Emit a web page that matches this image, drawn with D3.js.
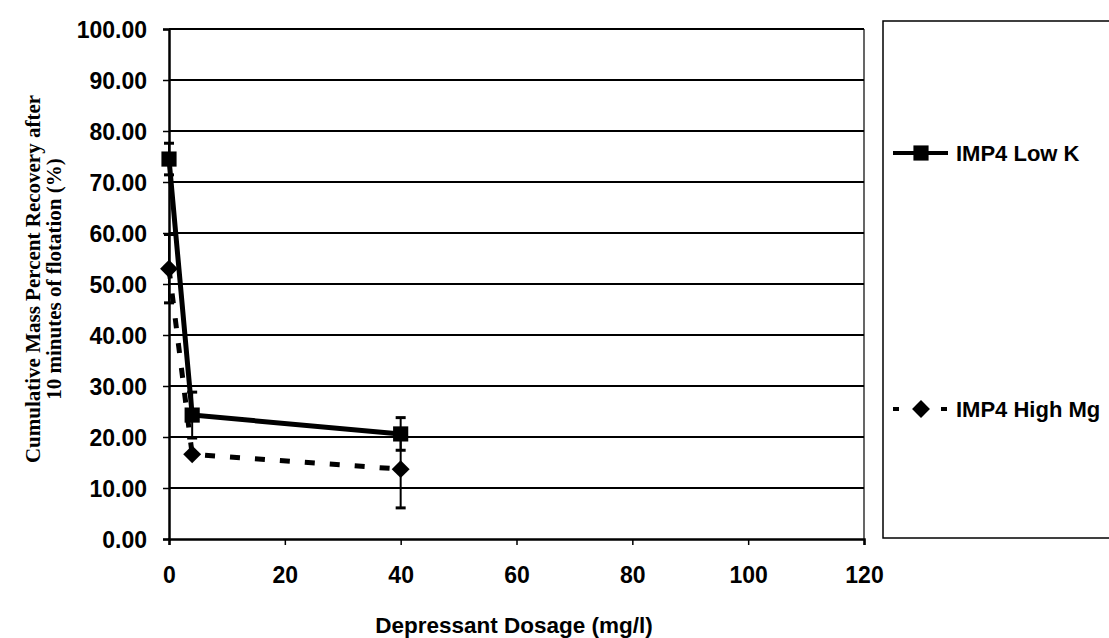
<!DOCTYPE html>
<html><head><meta charset="utf-8">
<script src="https://cdn.jsdelivr.net/npm/d3@7"></script>
<style>body{margin:0;background:#fff}svg{display:block}</style>
</head><body>
<script>
const dosage = [0, 4, 40];
const lowK = [74.5, 24.3, 20.6];
const lowKErr = [3.1, 4.5, 3.2];
const highMg = [53.0, 16.6, 13.7];
const highMgErr = [6.7, 0, 7.6];
const seriesNames = ["IMP4 Low K", "IMP4 High Mg"];
const xTicks = [0, 20, 40, 60, 80, 100, 120];
const yTicks = [0, 10, 20, 30, 40, 50, 60, 70, 80, 90, 100];

const W = 1109, H = 638;
const svg = d3.select("body").append("svg").attr("width", W).attr("height", H);
const x = d3.scaleLinear().domain([0, 120]).range([169, 864]);
const y = d3.scaleLinear().domain([0, 100]).range([539, 29]);
const sans = "'Liberation Sans', Arial, sans-serif";

// gridlines
svg.append("g").selectAll("line").data(yTicks.filter(d => d > 0)).join("line")
  .attr("x1", x(0)).attr("x2", x(120)).attr("y1", d => y(d)).attr("y2", d => y(d))
  .attr("stroke", "#000").attr("stroke-width", 2);
// right border
svg.append("line").attr("x1", x(120)).attr("x2", x(120)).attr("y1", y(100)).attr("y2", y(0))
  .attr("stroke", "#000").attr("stroke-width", 1.2);

// axes
const yAxis = svg.append("g").attr("transform", `translate(${x(0)},0)`)
  .call(d3.axisLeft(y).tickValues(yTicks).tickFormat(d3.format(".2f")).tickSize(6).tickPadding(16));
const xAxis = svg.append("g").attr("transform", `translate(0,${y(0)})`)
  .call(d3.axisBottom(x).tickValues(xTicks).tickSize(6).tickPadding(22));
[yAxis, xAxis].forEach(a => {
  a.select(".domain").attr("stroke", "#000").attr("stroke-width", 2.5);
  a.selectAll(".tick line").attr("stroke", "#000").attr("stroke-width", 1.5);
  a.selectAll("text").attr("font-family", sans).attr("font-size", 23).attr("font-weight", "bold").attr("fill", "#000");
});
yAxis.selectAll("text").attr("dy", "0.36em");

// axis titles
svg.append("text").attr("x", 514).attr("y", 633).attr("text-anchor", "middle")
  .attr("font-family", sans).attr("font-size", 22.5).attr("font-weight", "bold").text("Depressant Dosage (mg/l)");
const yt = svg.append("text").attr("transform", "translate(33,279) rotate(-90)").attr("text-anchor", "middle")
  .attr("font-family", "'Liberation Serif', 'Times New Roman', serif").attr("font-size", 21).attr("font-weight", "bold");
yt.append("tspan").attr("x", 0).attr("dy", "0.35em").text("Cumulative Mass Percent Recovery after");
yt.append("tspan").attr("x", 0).attr("dy", "0.98em").text("10 minutes of flotation (%)");

const pts = (vals, errs) => dosage.map((d, i) => ({x: d, y: vals[i], e: errs[i]}));
const sK = pts(lowK, lowKErr), sM = pts(highMg, highMgErr);

// error bars
function errBars(data) {
  const g = svg.append("g").attr("stroke", "#000").attr("stroke-width", 2);
  data.filter(d => d.e > 0).forEach(d => {
    g.append("line").attr("x1", x(d.x)).attr("x2", x(d.x)).attr("y1", y(d.y - d.e)).attr("y2", y(d.y + d.e));
    [d.y - d.e, d.y + d.e].forEach(v => g.append("line").attr("x1", x(d.x) - 5).attr("x2", x(d.x) + 5)
      .attr("y1", y(v)).attr("y2", y(v)).attr("stroke-width", 3));
  });
}
errBars(sM); errBars(sK);

const line = d3.line().x(d => x(d.x)).y(d => y(d.y));
svg.append("path").datum(sM).attr("d", line).attr("fill", "none").attr("stroke", "#000")
  .attr("stroke-width", 5).attr("stroke-dasharray", "10,15");
svg.append("path").datum(sK).attr("d", line).attr("fill", "none").attr("stroke", "#000").attr("stroke-width", 5);

const sq = d3.symbol().type(d3.symbolSquare).size(230);
const dia = d3.symbol().type(d3.symbolSquare).size(160);
svg.append("g").selectAll("path").data(sM).join("path").attr("d", dia)
  .attr("transform", d => `translate(${x(d.x)},${y(d.y)}) rotate(45)`).attr("fill", "#000");
svg.append("g").selectAll("path").data(sK).join("path").attr("d", sq)
  .attr("transform", d => `translate(${x(d.x)},${y(d.y)})`).attr("fill", "#000");

// legend
svg.append("rect").attr("x", 883).attr("y", 21).attr("width", 240).attr("height", 517)
  .attr("fill", "none").attr("stroke", "#000").attr("stroke-width", 1.5);
const leg = [{name: seriesNames[0], y: 153, dash: null, sym: sq, r: 0},
             {name: seriesNames[1], y: 409, dash: "6,18", sym: dia, r: 45}];
leg.forEach(l => {
  svg.append("line").attr("x1", 893).attr("x2", 948).attr("y1", l.y).attr("y2", l.y)
    .attr("stroke", "#000").attr("stroke-width", 4).attr("stroke-dasharray", l.dash);
  svg.append("path").attr("d", l.sym).attr("transform", `translate(921,${l.y}) rotate(${l.r})`).attr("fill", "#000");
  svg.append("text").attr("x", 956).attr("y", l.y).attr("dy", "0.36em").attr("font-family", sans)
    .attr("font-size", 22).attr("font-weight", "bold").text(l.name);
});
</script>
</body></html>
